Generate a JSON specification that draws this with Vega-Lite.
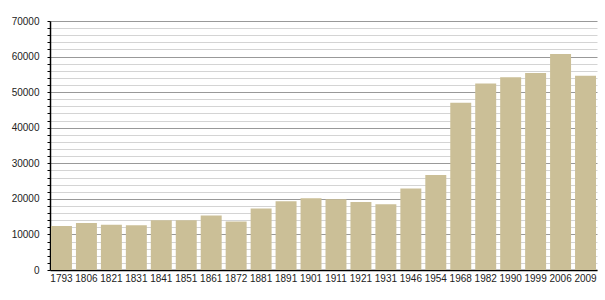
{
  "$schema": "https://vega.github.io/schema/vega-lite/v6.json",
  "autosize": "none",
  "width": 547,
  "height": 249,
  "padding": {"left": 50, "top": 21, "right": 8, "bottom": 30},
  "background": "white",
  "data": {"values": [
    {"year": "1793", "pop": 12400},
    {"year": "1806", "pop": 13200},
    {"year": "1821", "pop": 12700},
    {"year": "1831", "pop": 12600},
    {"year": "1841", "pop": 14000},
    {"year": "1851", "pop": 14000},
    {"year": "1861", "pop": 15300},
    {"year": "1872", "pop": 13600},
    {"year": "1881", "pop": 17300},
    {"year": "1891", "pop": 19300},
    {"year": "1901", "pop": 20200},
    {"year": "1911", "pop": 19900},
    {"year": "1921", "pop": 19100},
    {"year": "1931", "pop": 18500},
    {"year": "1946", "pop": 22900},
    {"year": "1954", "pop": 26700},
    {"year": "1968", "pop": 47000},
    {"year": "1982", "pop": 52400},
    {"year": "1990", "pop": 54200},
    {"year": "1999", "pop": 55400},
    {"year": "2006", "pop": 60700},
    {"year": "2009", "pop": 54600}
  ]},
  "config": {
    "view": {"stroke": null},
    "font": "Liberation Sans"
  },
  "mark": {"type": "bar", "color": "#cbbf97"},
  "encoding": {
    "x": {
      "field": "year", "type": "ordinal", "sort": null,
      "scale": {"paddingInner": 0.16, "paddingOuter": 0.04},
      "axis": {
        "title": null, "labelAngle": 0, "ticks": false, "labelPadding": 3,
        "labelFontSize": 10, "labelColor": "#222", "domainColor": "#000", "domainWidth": 1.5
      }
    },
    "y": {
      "field": "pop", "type": "quantitative",
      "scale": {"domain": [0, 70000], "nice": false},
      "axis": {
        "title": null,
        "values": [0,2000,4000,6000,8000,10000,12000,14000,16000,18000,20000,22000,24000,26000,28000,30000,32000,34000,36000,38000,40000,42000,44000,46000,48000,50000,52000,54000,56000,58000,60000,62000,64000,66000,68000,70000],
        "format": "d",
        "labelExpr": "datum.value % 10000 === 0 ? datum.label : ''",
        "grid": true,
        "gridColor": {"condition": {"test": "datum.value % 10000 === 0", "value": "#999999"}, "value": "#d4d4d4"},
        "gridWidth": 1,
        "tickColor": "#000", "tickSize": 3,
        "labelPadding": 8, "labelFontSize": 10, "labelColor": "#222",
        "domainColor": "#000", "domainWidth": 1.5
      }
    }
  }
}
